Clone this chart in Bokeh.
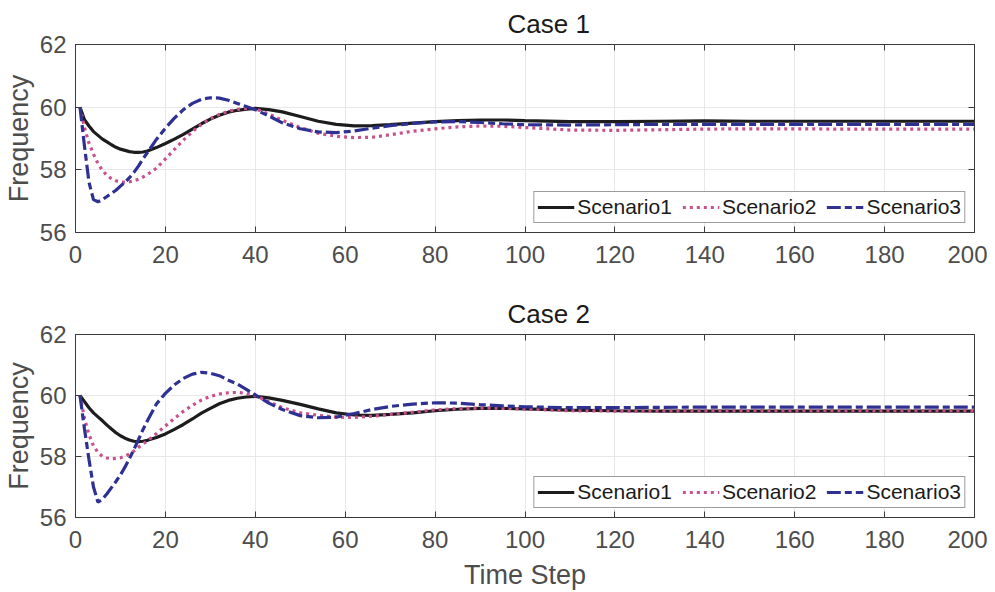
from bokeh.plotting import figure
from bokeh.layouts import column
from bokeh.models import FixedTicker, LinearAxis, ColumnDataSource
from bokeh.embed import file_html
from bokeh.resources import INLINE

# ---- data ----
t = [1, 2, 3, 4, 5, 6, 7, 8, 9, 10, 11, 12, 13, 14, 15, 16, 18, 20, 22, 24, 26, 28, 30,
     32, 34, 36, 38, 40, 43, 46, 50, 54, 58, 62, 66, 70, 75, 80, 85, 90, 95, 100,
     110, 120, 130, 140, 150, 160, 170, 180, 190, 200]

case1_s1 = [60.0, 59.6, 59.4, 59.22, 59.1, 58.98, 58.89, 58.8, 58.72, 58.66, 58.62, 58.58, 58.56,
            58.56, 58.57, 58.6, 58.71, 58.84, 58.98, 59.13, 59.3, 59.47, 59.62, 59.74, 59.84,
            59.9, 59.94, 59.96, 59.92, 59.85, 59.7, 59.55, 59.45, 59.4, 59.41, 59.44, 59.49,
            59.54, 59.57, 59.59, 59.59, 59.57, 59.54, 59.54, 59.55, 59.56, 59.55, 59.55, 59.55,
            59.55, 59.55, 59.55]
case1_s2 = [60.0, 59.35, 58.85, 58.5, 58.2, 57.98, 57.82, 57.72, 57.65, 57.61, 57.6, 57.62, 57.65,
            57.7, 57.77, 57.85, 58.05, 58.35, 58.65, 58.95, 59.22, 59.45, 59.63, 59.77, 59.87,
            59.93, 59.96, 59.95, 59.78, 59.58, 59.35, 59.17, 59.07, 59.03, 59.04, 59.12, 59.23,
            59.31, 59.37, 59.4, 59.39, 59.35, 59.27, 59.26, 59.28, 59.3, 59.31, 59.31, 59.3,
            59.3, 59.3, 59.3]
case1_s3 = [60.0, 58.75, 57.6, 57.05, 56.98, 57.05, 57.15, 57.25, 57.35, 57.48, 57.6, 57.75, 57.92,
            58.12, 58.35, 58.55, 58.97, 59.33, 59.65, 59.92, 60.12, 60.25, 60.3, 60.29, 60.22,
            60.12, 60.02, 59.92, 59.72, 59.5, 59.31, 59.21, 59.19, 59.24, 59.33, 59.41, 59.48,
            59.53, 59.54, 59.51, 59.47, 59.44, 59.43, 59.44, 59.45, 59.45, 59.45, 59.45, 59.45,
            59.45, 59.45, 59.45]

case2_s1 = [60.0, 59.8, 59.6, 59.43, 59.3, 59.17, 59.03, 58.9, 58.78, 58.68, 58.6, 58.54, 58.5,
            58.49, 58.5, 58.53, 58.62, 58.74, 58.89, 59.05, 59.23, 59.42, 59.58, 59.73, 59.84,
            59.91, 59.95, 59.97, 59.92, 59.84, 59.71, 59.56, 59.43, 59.36, 59.35, 59.38, 59.43,
            59.5, 59.55, 59.58, 59.58, 59.56, 59.52, 59.5, 59.49, 59.49, 59.49, 59.49, 59.49,
            59.49, 59.49, 59.49]
case2_s2 = [60.0, 59.25, 58.72, 58.35, 58.13, 58.0, 57.95, 57.93, 57.94, 57.96, 58.01, 58.08, 58.18,
            58.3, 58.41, 58.52, 58.75, 59.0, 59.25, 59.48, 59.68, 59.85, 59.97, 60.05, 60.09,
            60.1, 60.07, 59.99, 59.8, 59.6, 59.43, 59.35, 59.29, 59.28, 59.32, 59.38, 59.45,
            59.53, 59.57, 59.59, 59.58, 59.56, 59.5, 59.49, 59.49, 59.5, 59.5, 59.5, 59.5,
            59.5, 59.5, 59.5]
case2_s3 = [60.0, 58.9, 57.9, 57.0, 56.5, 56.6, 56.78, 56.98, 57.18, 57.4, 57.65, 57.93, 58.23,
            58.55, 58.88, 59.17, 59.72, 60.07, 60.35, 60.56, 60.7, 60.76, 60.73, 60.65, 60.5,
            60.38, 60.2, 60.02, 59.75, 59.54, 59.34, 59.27, 59.29, 59.41, 59.54, 59.64, 59.72,
            59.76, 59.75, 59.7, 59.66, 59.63, 59.6, 59.6, 59.61, 59.62, 59.62, 59.62, 59.62,
            59.62, 59.62, 59.62]

x_ticks = [0, 20, 40, 60, 80, 100, 120, 140, 160, 180, 200]
y_ticks = [56, 58, 60, 62]
series_names = ["Scenario1", "Scenario2", "Scenario3"]
titles = ["Case 1", "Case 2"]

FONT = "Liberation Sans"
TICK_COLOR = "#4d4d4d"
BOX_COLOR = "#3a3a3a"
colors = ["#1c1c1c", "#c8508c", "#2e3192"]
dashes = ["solid", "3 4", "14 4 7 4"]


def make_panel(title, ys, height, top_border, bottom_border, xlabel):
    p = figure(width=987, height=height, output_backend="svg", toolbar_location=None,
               x_range=(0, 200), y_range=(56, 62),
               min_border_left=73, min_border_right=13,
               min_border_top=top_border, min_border_bottom=bottom_border)
    p.title.text = title
    p.title.align = "left"
    p.title.offset = 432
    p.title.text_font = FONT
    p.title.text_font_size = "26px"
    p.title.text_font_style = "normal"
    p.title.text_color = "#1a1a1a"
    p.title.standoff = 12

    src = ColumnDataSource(dict(t=t, s1=ys[0], s2=ys[1], s3=ys[2]))
    for key, name, c, d in zip(["s1", "s2", "s3"], series_names, colors, dashes):
        p.line("t", key, source=src, line_color=c, line_width=3.2, line_dash=d,
               legend_label=name)

    for ax in [p.xaxis[0], p.yaxis[0]]:
        ax.major_label_text_font = FONT
        ax.major_label_text_font_size = "24px"
        ax.major_label_text_color = TICK_COLOR
        ax.axis_line_color = BOX_COLOR
        ax.major_tick_line_color = BOX_COLOR
        ax.major_tick_in = 6
        ax.major_tick_out = 0
        ax.minor_tick_line_color = None
        ax.major_label_standoff = 9
        ax.axis_label_text_font = FONT
        ax.axis_label_text_font_size = "27px"
        ax.axis_label_text_font_style = "normal"
        ax.axis_label_text_color = TICK_COLOR
    p.xaxis.major_label_standoff = 13
    p.xaxis.ticker = FixedTicker(ticks=x_ticks)
    p.yaxis.ticker = FixedTicker(ticks=y_ticks)
    p.yaxis.axis_label = "Frequency"
    p.yaxis.axis_label_standoff = 3
    if xlabel:
        p.xaxis.axis_label = xlabel
        p.xaxis.axis_label_standoff = 9

    # mirrored ticks on top and right (box)
    top = LinearAxis(ticker=FixedTicker(ticks=x_ticks), major_label_text_font_size="0px",
                     major_tick_in=6, major_tick_out=0, major_label_standoff=0,
                     minor_tick_line_color=None, axis_line_color=BOX_COLOR,
                     major_tick_line_color=BOX_COLOR)
    right = LinearAxis(ticker=FixedTicker(ticks=y_ticks), major_label_text_font_size="0px",
                       major_tick_in=6, major_tick_out=0, major_label_standoff=0,
                       minor_tick_line_color=None, axis_line_color=BOX_COLOR,
                       major_tick_line_color=BOX_COLOR)
    p.add_layout(top, "above")
    p.add_layout(right, "right")

    p.xgrid.ticker = FixedTicker(ticks=x_ticks)
    p.ygrid.ticker = FixedTicker(ticks=y_ticks)
    p.grid.grid_line_color = "#e8e8e8"
    p.grid.grid_line_width = 1
    p.outline_line_color = BOX_COLOR
    p.outline_line_width = 1

    lg = p.legend[0]
    lg.location = "bottom_right"
    lg.orientation = "horizontal"
    lg.margin = 9
    lg.padding = 3
    lg.spacing = 10
    lg.glyph_width = 37
    lg.glyph_height = 22
    lg.label_standoff = 3
    lg.label_height = 22
    lg.label_text_font = FONT
    lg.label_text_font_size = "21px"
    lg.label_text_color = "#1a1a1a"
    lg.border_line_color = BOX_COLOR
    lg.border_line_width = 1
    lg.background_fill_color = "white"
    lg.background_fill_alpha = 1.0
    p.background_fill_color = "white"
    p.border_fill_color = "white"
    return p


p1 = make_panel(titles[0], [case1_s1, case1_s2, case1_s3], 290, 43, 58, None)
p2 = make_panel(titles[1], [case2_s1, case2_s2, case2_s3], 302, 41, 72, "Time Step")

layout = column(p1, p2, spacing=0)
open("out.html", "w").write(file_html(layout, INLINE))
